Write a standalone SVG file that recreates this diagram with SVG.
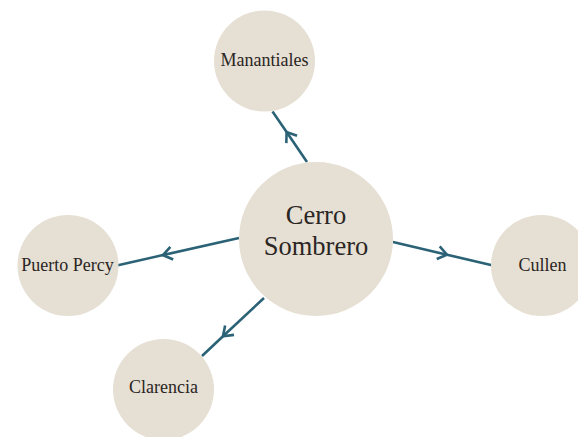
<svg xmlns="http://www.w3.org/2000/svg" width="578" height="437" viewBox="0 0 578 437">
  <style>
    .node circle { fill: #e6dfd3; }
    .node text { font-family: "Liberation Serif", "DejaVu Serif", serif; fill: #2a2624; text-anchor: middle; }
    .small { font-size: 18px; }
    .big { font-size: 26.5px; }
    .edge { fill: none; stroke: #2b6276; stroke-width: 2.6; marker-mid: url(#chev); }
  </style>
  <defs>
    <marker id="chev" markerUnits="userSpaceOnUse" viewBox="-12 -8 14 16" refX="0" refY="0" markerWidth="14" markerHeight="16" orient="auto">
      <path d="M-9,-6.5 L0,0 L-9,6.5" fill="none" stroke="#2b6276" stroke-width="2.6" stroke-linejoin="miter"/>
    </marker>
  </defs>
  <rect width="578" height="437" fill="#ffffff"/>
  <g id="connectors">
    <path class="edge" d="M307,162 L286.6,132 L272.5,111.5"/>
    <path class="edge" d="M239,238 L163,255.1 L118,265.2"/>
    <path class="edge" d="M393,242 L447,254.7 L492,265.2"/>
    <path class="edge" d="M264,298 L223,336.3 L202,356"/>
  </g>
  <g id="node-manantiales" class="node">
    <circle cx="264.5" cy="61" r="50.5"/>
    <text class="small" x="264.5" y="65.5">Manantiales</text>
  </g>
  <g id="node-cerro-sombrero" class="node">
    <circle cx="316" cy="239" r="77"/>
    <text class="big" x="316" y="223.5">Cerro</text>
    <text class="big" x="316" y="255">Sombrero</text>
  </g>
  <g id="node-puerto-percy" class="node">
    <circle cx="68" cy="265.5" r="50.5"/>
    <text class="small" x="67.5" y="270.5">Puerto Percy</text>
  </g>
  <g id="node-cullen" class="node">
    <circle cx="541.5" cy="265.5" r="50.5"/>
    <text class="small" x="542.5" y="270.5">Cullen</text>
  </g>
  <g id="node-clarencia" class="node">
    <circle cx="163.5" cy="389.5" r="50.5"/>
    <text class="small" x="163.5" y="393">Clarencia</text>
  </g>
</svg>
